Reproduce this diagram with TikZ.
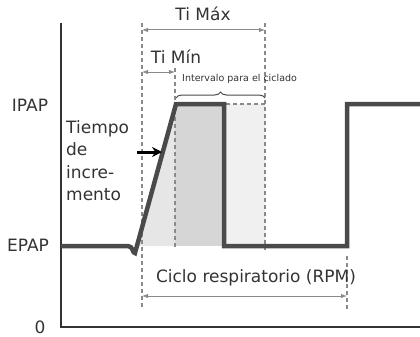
\documentclass[tikz,border=0pt]{standalone}
\usepackage{fontspec}
\setmainfont{DejaVu Sans}
\usetikzlibrary{arrows.meta,decorations.pathreplacing}
\definecolor{wave}{HTML}{4A4A4A}
\definecolor{axisc}{HTML}{333333}
\definecolor{guide}{HTML}{8A8A8A}
\definecolor{shadeA}{HTML}{E6E6E6}
\definecolor{shadeB}{HTML}{D6D6D6}
\definecolor{shadeC}{HTML}{F0F0F0}
\definecolor{txt}{HTML}{333333}
\tikzset{
  wavestyle/.style={draw=wave,line width=4.5pt,line join=miter},
  axisstyle/.style={draw=axisc,line width=1.8pt},
  guidestyle/.style={draw=guide,line width=1.1pt,dash pattern=on 4pt off 3pt},
  spanarrow/.style={draw=guide,line width=1pt,{Latex[length=6pt,width=4.5pt]}-{Latex[length=6pt,width=4.5pt]}},
  lbl/.style={text=txt,font=\fontsize{17}{20}\selectfont,inner sep=0pt},
  smalllbl/.style={text=txt,font=\fontsize{9.5}{11}\selectfont,inner sep=0pt}
}
\begin{document}
\begin{tikzpicture}[x=1pt,y=-1pt]
\useasboundingbox (0,0) rectangle (420,337);
% shading
\fill[shadeA] (137,246) -- (176,104) -- (175,104) -- (175,246) -- cycle;
\fill[shadeB] (175,104) rectangle (224,246);
\fill[shadeC] (224,104) rectangle (265,246);
\draw[guidestyle] (226,104) -- (265,104);
% guide coordinates
\coordinate (g1t) at (142,23);  \coordinate (g1b) at (142,309);
\coordinate (g2t) at (175,68);  \coordinate (g2b) at (175,249);
\coordinate (g3t) at (265,23);  \coordinate (g3b) at (265,250);
\coordinate (g4t) at (347,256); \coordinate (g4b) at (347,309);
\draw[guidestyle] (g1t) -- (g1b);
\draw[guidestyle] (g2t) -- (g2b);
\draw[guidestyle] (g3t) -- (g3b);
\draw[guidestyle] (g4t) -- (g4b);
% axes
\coordinate (ytop) at (61,23);
\coordinate (orig) at (61,327);
\coordinate (xend) at (420,327);
\draw[axisstyle] (ytop) -- (orig) -- (xend);
% waveform
\draw[wavestyle] (61,246) -- (128,246) .. controls (133,246) and (133,254) .. (135,253) -- (176,104) -- (224,104) -- (224,246) -- (347,246) -- (347,104) -- (422,104);
% span arrows
\coordinate (tmaxA) at (142,30); \coordinate (tmaxB) at (265,30);
\draw[spanarrow] (tmaxA) -- (tmaxB);
\coordinate (tminA) at (142,72); \coordinate (tminB) at (175,72);
\draw[spanarrow] (tminA) -- (tminB);
\coordinate (cycA) at (142,296); \coordinate (cycB) at (347,296);
\draw[spanarrow] (cycA) -- (cycB);
% brace
\coordinate (brA) at (176,98); \coordinate (brB) at (265,98);
\draw[draw=wave,line width=1pt,decorate,decoration={brace,amplitude=6pt}] (brA) -- (brB);
% labels
\node[lbl] (timax) at (203,14) {Ti Máx};
\node[lbl] (timin) at (176,57) {Ti Mín};
\node[smalllbl,anchor=west] (interv) at (182,79) {Intervalo para el ciclado};
\node[lbl] (ipap) at (30,105) {IPAP};
\node[lbl] (epap) at (28,245) {EPAP};
\node[lbl] (zero) at (40,327) {0};
\node[lbl] (cyc) at (256,278) {Ciclo respiratorio (RPM)};
\node[lbl,anchor=north west,align=left,font=\fontsize{17}{22.5}\selectfont] (tiempo) at (66,120) {Tiempo\\de\\incre-\\mento};
% rise arrow
\coordinate (riseA) at (137,152);
\coordinate (riseB) at (162,152);
\draw[draw=black,line width=3pt,-{Stealth[length=10pt,width=10pt]}] (riseA) -- (riseB);
\end{tikzpicture}
\end{document}
